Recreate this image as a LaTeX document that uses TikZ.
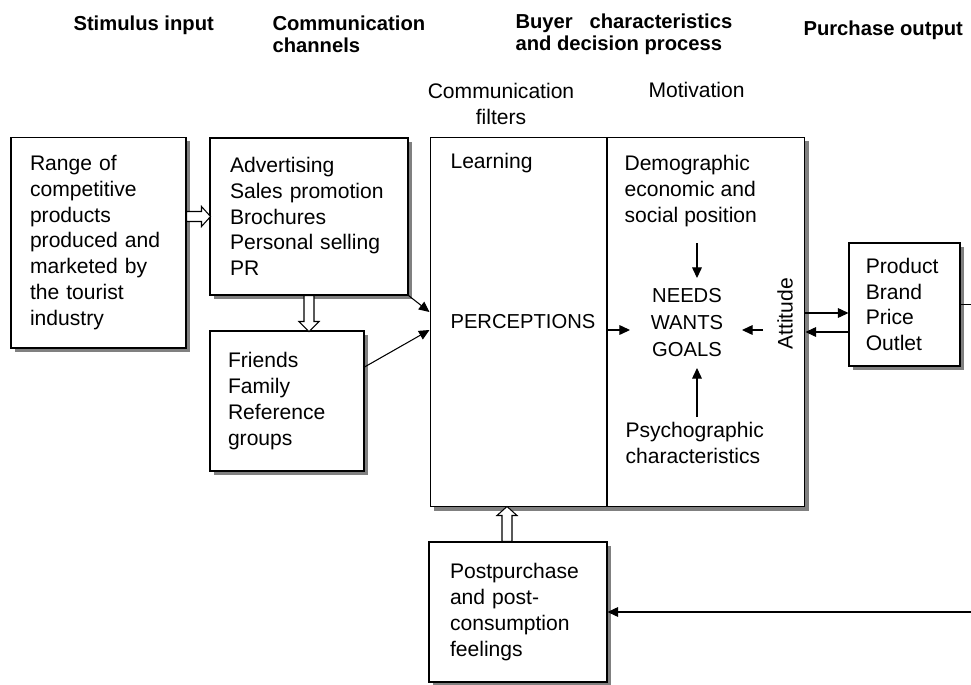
\documentclass[tikz,border=0pt]{standalone}
\usepackage{fontspec}
\setmainfont{Liberation Sans}
\usetikzlibrary{arrows.meta,shadows}

\begin{document}
\begin{tikzpicture}[x=0.02cm, y=-0.02cm, line width=0.6pt,
    box/.style={draw, fill=white, inner sep=0pt, align=left,
        general shadow={fill=black!50, shadow xshift=2.2pt, shadow yshift=-2.2pt},
        font=\fontsize{12}{14.7}\selectfont},
    head/.style={anchor=north west, inner sep=0pt, align=left,
        font=\fontsize{11.5}{12.5}\selectfont\bfseries},
    txt/.style={inner sep=0pt, align=left, font=\fontsize{12}{14.7}\selectfont},
    caps/.style={inner sep=0pt, font=\fontsize{11.5}{15.3}\selectfont},
    tip/.style={-{Triangle[length=6pt,width=5.5pt]}},
    hollow/.style={draw, fill=white, line join=miter}]

\useasboundingbox (0,0) rectangle (971,684);

% column headings
\node[head] (hstim) at (73,15) {Stimulus input};
\node[head] (hchan) at (272,15) {Communication\\channels};
\node[head] (hbuyer) at (515,13) {Buyer\ \ \ characteristics\\and decision process};
\node[head] (hout) at (803,20) {Purchase output};

% boxes
\node[box, minimum width=3.5cm, minimum height=4.22cm, text width=2.74cm] (range) at (98.5,242.5)
    {Range of\\competitive\\products\\produced and\\marketed by\\the tourist\\industry};
\node[box, minimum width=3.96cm, minimum height=3.14cm, text width=3.16cm] (media) at (309,216.5)
    {Advertising\\Sales promotion\\Brochures\\Personal selling\\PR};
\node[box, minimum width=3.08cm, minimum height=2.8cm, text width=2.36cm] (friends) at (287,401)
    {Friends\\Family\\Reference\\groups};
\node[box, minimum width=7.5cm, minimum height=7.4cm] (buyer) at (617.5,322) {};
\node[box, minimum width=2.22cm, minimum height=2.46cm, text width=1.55cm] (product) at (904.5,304.5)
    {Product\\Brand\\Price\\Outlet};
\node[box, minimum width=3.56cm, minimum height=2.8cm, text width=2.72cm] (post) at (518,612)
    {Postpurchase\\and post-\\consumption\\feelings};

% inside the buyer box
\coordinate (divtop) at (607,137);
\coordinate (divbot) at (607,507);
\draw (divtop) -- (divbot);
\node[txt, anchor=north, align=center] (filters) at (501,83) {Communication\\filters};
\node[txt, anchor=north west] (motiv) at (648,82) {Motivation};
\node[txt, anchor=north west] (learn) at (450,153) {Learning};
\node[txt, anchor=north west] (demo) at (624,155) {Demographic\\economic and\\social position};
\node[txt, anchor=north west] (psycho) at (625,422) {Psychographic\\characteristics};
\node[caps, anchor=west] (percept) at (450,322) {PERCEPTIONS};
\node[caps, anchor=north, align=center] (needs) at (687,288) {NEEDS\\WANTS\\GOALS};
\node[txt, rotate=90] (attit) at (785,314) {Attitude};

% hollow arrows
\draw[hollow] (range.east |- media.west) ++(0,-5) -- ++(15,0) -- ++(0,-5) -- ++(9,10)
    -- ++(-9,10) -- ++(0,-5) -- ++(-15,0) -- cycle;
\draw[hollow] (media.south) ++(-5,0) -- ++(0,26) -- ++(-5,0) -- ++(10,10)
    -- ++(10,-10) -- ++(-5,0) -- ++(0,-26) -- cycle;
\draw[hollow] ([xshift=-0.22cm]post.north) ++(-5,0) -- ++(0,-26) -- ++(-5,0) -- ++(10,-9)
    -- ++(10,9) -- ++(-5,0) -- ++(0,26) -- cycle;

% arrows into the filters
\draw[tip] (media.south east) -- ([yshift=0.2cm]buyer.west);
\draw[tip] ([yshift=0.68cm]friends.east) -- ([yshift=-0.16cm]buyer.west);

% arrows round the needs
\coordinate (pin) at (607,330);
\coordinate (mtop) at (697,243);
\coordinate (mbot) at (697,417);
\coordinate (mright) at (763,330);
\draw[tip] (pin) -- ++(23,0);
\draw[tip] (mtop) -- ++(0,35);
\draw[tip] (mbot) -- ++(0,-49);
\draw[tip] (mright) -- ++(-21,0);

% purchase and feedback
\draw[tip] ([yshift=0.18cm]buyer.east) -- ([yshift=0.18cm]buyer.east -| product.west);
\draw[tip] ([yshift=-0.2cm]buyer.east -| product.west) -- ([yshift=-0.2cm]buyer.east);
\coordinate (outR) at (971,304.5);
\coordinate (outB) at (971,612);
\draw (product.east) -- (outR);
\draw[tip] (outB) -- (post.east);
\end{tikzpicture}
\end{document}
